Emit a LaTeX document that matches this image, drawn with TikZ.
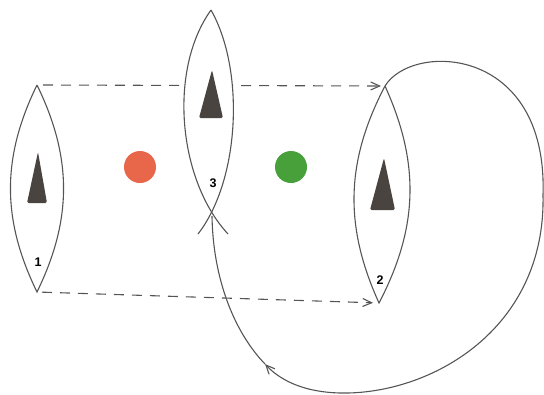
\documentclass[tikz,border=0pt]{standalone}
\usepackage{fontspec}
\setsansfont{Liberation Sans}
\usetikzlibrary{arrows.meta}
\definecolor{pencil}{HTML}{555555}
\definecolor{dotred}{HTML}{E8664A}
\definecolor{dotgreen}{HTML}{47A03A}
\definecolor{fin}{HTML}{4A4441}
\begin{document}
\begin{tikzpicture}[x=1pt,y=-1pt,line width=1.1pt,color=pencil,>={Straight Barb[length=9pt,width=8pt]},
        flow/.style={->,dash pattern=on 10pt off 8pt},
        num/.style={font=\sffamily\bfseries\fontsize{12.5}{14}\selectfont,text=black},
        dot/.style={circle,inner sep=0pt,minimum size=32pt}]
        \useasboundingbox (0,0) rectangle (544,394);
        % tips of the three lenses
        \coordinate (t1) at (37,85);
        \coordinate (b1) at (37,292);
        \coordinate (t2) at (385,86);
        \coordinate (b2) at (379,303);
        \coordinate (t3) at (211,10);
        \coordinate (b3) at (212,216);
        \coordinate (rt) at (543,195);
        \coordinate (bt) at (340,393);
        \coordinate (m) at (265,364);

        % dashed connectors
        \draw[flow, shorten <=6pt, shorten >=4pt] (t1) -- (t2);
        \draw[flow, shorten <=5pt, shorten >=6pt] (b1) -- (b2);

        % lenses
        \draw (t1) to[bend left=26] (b1) to[bend left=26] (t1);
        \draw (t2) to[bend left=26] (b2) to[bend left=26] (t2);
        \fill[white] (t3) .. controls (168,70) and (178,180) .. (228,234)
            -- (198,234) .. controls (240,180) and (245,70) .. (t3);
        \draw (t3) .. controls (168,70) and (178,180) .. (228,234);
        \draw (t3) .. controls (245,70) and (240,180) .. (198,234);

        % fins
        \fill[fin, rounded corners=1.5pt] (38,152) -- (47,203) -- (27,203) -- cycle;
        \fill[fin, rounded corners=1.5pt] (384,158) -- (395,210) -- (370,210) -- cycle;
        \fill[fin, rounded corners=1.5pt] (212,70) -- (223,118) -- (199,118) -- cycle;

        \node (l1) [num] at (38,262) {1};
        \node (l2) [num] at (380,280) {2};
        \node (l3) [num] at (213,183) {3};

        \node (red) [dot, fill=dotred] at (140,167) {};
        \node (green) [dot, fill=dotgreen] at (291,167) {};

        % loop back to lens 3
        \draw[->] (t2) .. controls (412,42) and (548,45) .. (rt)
            .. controls (546,330) and (430,395) .. (bt)
            .. controls (300,392) and (278,378) .. (m);
        \draw (m) .. controls (235,333) and (213,280) .. (b3);
    \end{tikzpicture}
\end{document}
